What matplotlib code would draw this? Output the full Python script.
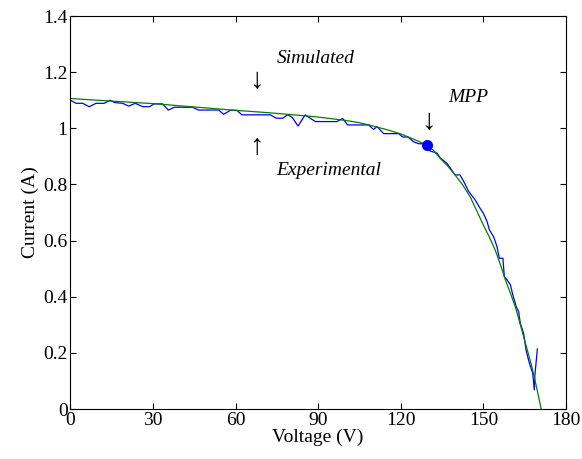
"""I-V curve: simulated vs experimental, with MPP marker."""

import matplotlib

matplotlib.use("Agg")
import matplotlib.pyplot as plt  # noqa: E402

plt.rcParams["font.family"] = ["Liberation Serif", "DejaVu Serif"]

# experimental measurement (V, A)
exp_v = [0.0, 2.1, 4.5, 6.9, 9.3, 12.3, 14.5, 16.0, 19.0, 21.2, 23.6, 26.3,
         28.7, 30.5, 33.5, 35.6, 37.8, 44.4, 46.6, 53.9, 55.7, 58.1, 60.5,
         62.3, 72.6, 74.8, 77.2, 78.9, 80.5, 82.7, 85.3, 87.1, 89.0, 96.8,
         98.9, 100.7, 108.3, 110.1, 111.4, 113.8, 119.2, 120.7, 122.6, 124.7,
         126.5, 128.3, 130.1, 130.7, 133.1, 134.3, 136.8, 139.7, 141.5, 142.8,
         144.6, 147.0, 148.8, 150.0, 151.3, 152.2, 153.7, 154.9, 155.8, 157.1,
         157.6, 158.6, 159.8, 160.7, 161.9, 162.8, 163.4, 164.6, 165.5, 166.7,
         167.9, 168.5, 168.7, 169.6]
exp_i = [1.100, 1.089, 1.089, 1.077, 1.089, 1.089, 1.100, 1.092, 1.089, 1.079,
         1.089, 1.077, 1.077, 1.087, 1.087, 1.065, 1.075, 1.075, 1.065, 1.065,
         1.050, 1.064, 1.064, 1.048, 1.048, 1.036, 1.036, 1.048, 1.040, 1.008,
         1.048, 1.036, 1.024, 1.024, 1.035, 1.012, 1.012, 0.996, 1.006, 0.981,
         0.981, 0.969, 0.969, 0.952, 0.945, 0.945, 0.925, 0.919, 0.912, 0.895,
         0.875, 0.834, 0.834, 0.812, 0.776, 0.745, 0.715, 0.697, 0.669, 0.638,
         0.614, 0.580, 0.537, 0.537, 0.471, 0.460, 0.443, 0.406, 0.365, 0.347,
         0.306, 0.270, 0.210, 0.163, 0.128, 0.068, 0.120, 0.214]

# simulated model curve (V, A)
sim_v = [0, 10, 20, 30, 40, 50, 60, 70, 80, 90, 100, 105, 110, 115, 120, 125,
         129.5, 132, 134.3, 137, 139.7, 142.5, 145.2, 147.5, 150.0, 152.2,
         154.3, 156.2, 158.0, 159.8, 161.6, 163.1, 164.6, 166.1, 167.6, 169.3,
         171.0]
sim_i = [1.106, 1.100, 1.094, 1.088, 1.080, 1.072, 1.064, 1.057, 1.049, 1.040,
         1.028, 1.020, 1.008, 0.995, 0.980, 0.960, 0.940, 0.920, 0.893, 0.866,
         0.834, 0.798, 0.756, 0.708, 0.655, 0.612, 0.566, 0.514, 0.460, 0.413,
         0.364, 0.312, 0.258, 0.205, 0.151, 0.078, 0.0]

mpp_v, mpp_i = 129.5, 0.94

x_ticks = [0, 30, 60, 90, 120, 150, 180]
y_ticks = [0, 0.2, 0.4, 0.6, 0.8, 1.0, 1.2, 1.4]
y_labels = ["0", "0.2", "0.4", "0.6", "0.8", "1", "1.2", "1.4"]

fig = plt.figure(figsize=(5.82, 4.59), dpi=100)
ax = fig.add_axes([0.1208, 0.1089, 0.8517, 0.8562])

ax.plot(exp_v, exp_i, color="#0000ff", lw=0.9)
ax.plot(sim_v, sim_i, color="#008000", lw=0.9)
ax.plot([mpp_v], [mpp_i], "o", color="#0000ff", ms=7)

ax.text(75.1, 1.25, "Simulated", style="italic", fontsize=14,
        ha="left", va="center")
ax.text(67.5, 1.168, "↓", fontsize=21, ha="center", va="center")
ax.text(67.5, 0.933, "↑", fontsize=21, ha="center", va="center")
ax.text(74.7, 0.848, "Experimental", style="italic", fontsize=14,
        ha="left", va="center")
ax.text(137.2, 1.108, "MPP", style="italic", fontsize=14,
        ha="left", va="center")
ax.text(129.9, 1.022, "↓", fontsize=21, ha="center", va="center")

ax.set_xlim(0, 180)
ax.set_ylim(0, 1.4)
ax.set_xticks(x_ticks)
ax.set_yticks(y_ticks)
ax.set_yticklabels(y_labels)
ax.tick_params(direction="in", top=True, right=True, labelsize=14, length=4,
               pad=2)
ax.set_xlabel("Voltage (V)", fontsize=14, labelpad=0)
ax.set_ylabel("Current (A)", fontsize=14, labelpad=3)

fig.savefig("out.png", dpi=100)
plt.close(fig)
